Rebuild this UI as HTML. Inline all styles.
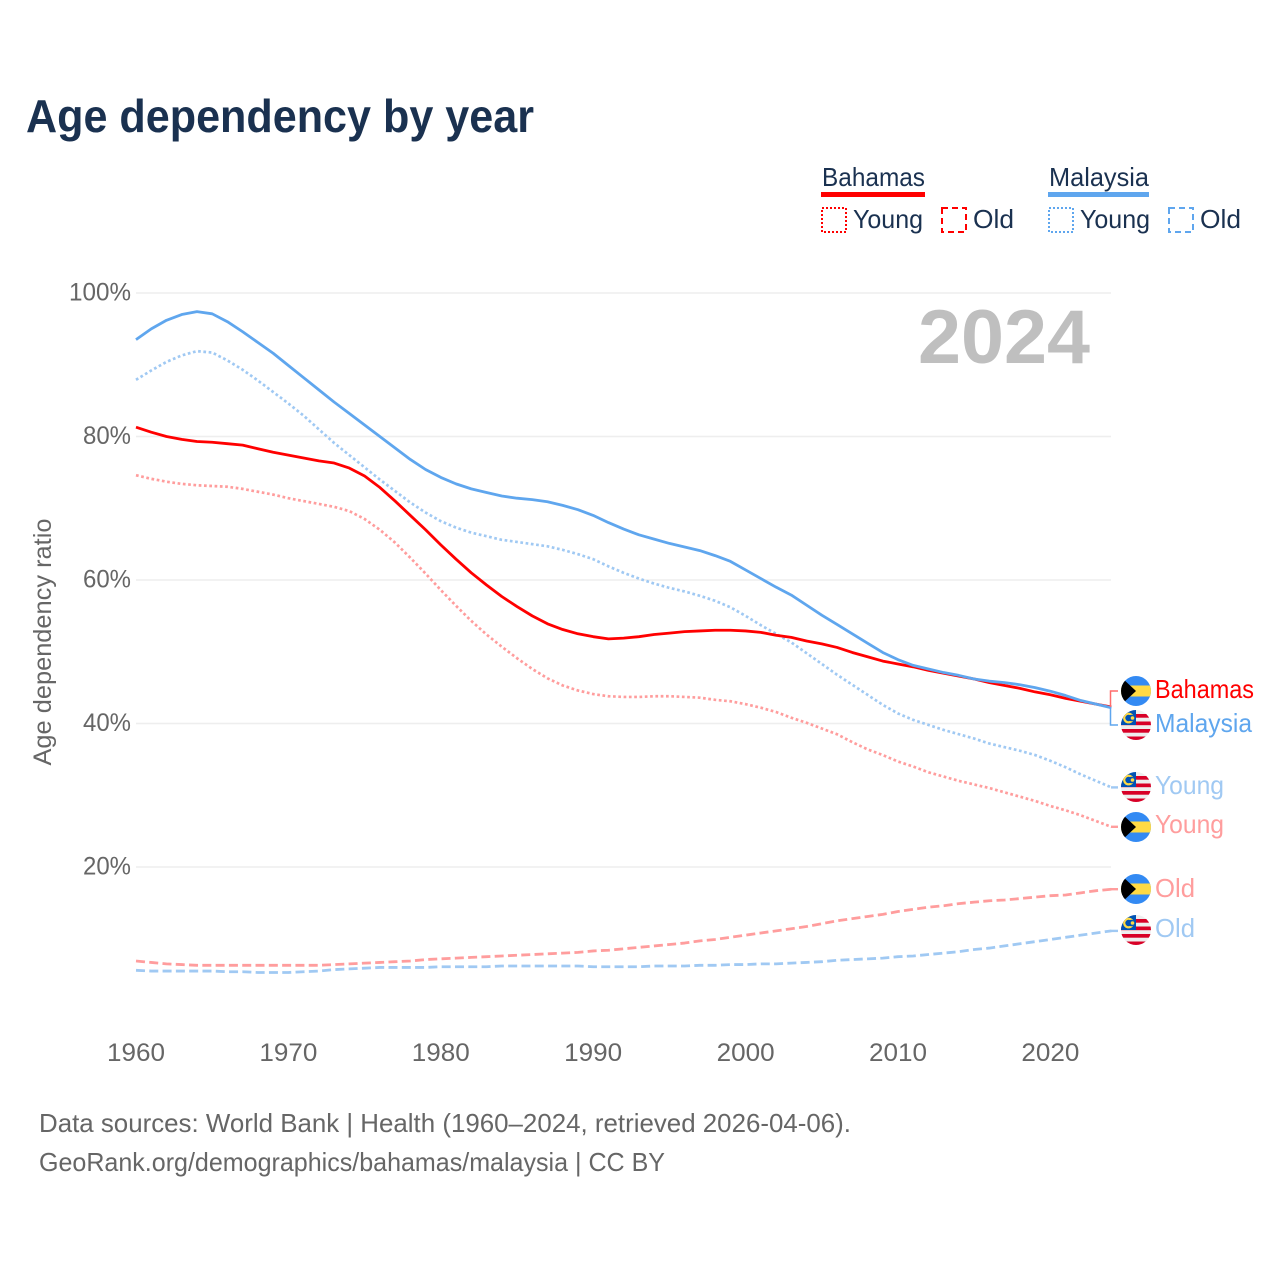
<!DOCTYPE html>
<html lang="en">
<head>
<meta charset="utf-8">
<title>Age dependency by year</title>
<style>
html,body{margin:0;padding:0;background:#fff;}
svg{display:block;font-family:"Liberation Sans",sans-serif;}
</style>
</head>
<body>
<svg id="chart" xmlns="http://www.w3.org/2000/svg" width="1280" height="1280" viewBox="0 0 1280 1280">
  <defs>
    <clipPath id="flag-clip"><circle cx="0" cy="0" r="15"/></clipPath>
  </defs>
  <rect x="0" y="0" width="1280" height="1280" fill="#ffffff"/>
  <text x="26" y="132" font-size="46" font-weight="700" fill="#1a3150" textLength="508" lengthAdjust="spacingAndGlyphs">Age dependency by year</text>

  <g fill="#1a3150" font-size="26">
    <text x="822" y="186" textLength="103" lengthAdjust="spacingAndGlyphs">Bahamas</text>
    <rect x="821" y="192" width="104" height="5" fill="#ff0000"/>
    <rect x="822" y="208" width="24" height="24" fill="none" stroke="#ff0000" stroke-width="2" stroke-dasharray="2 2"/>
    <text x="853" y="228" textLength="70" lengthAdjust="spacingAndGlyphs">Young</text>
    <rect x="942" y="208" width="24" height="24" fill="none" stroke="#ff0000" stroke-width="2" stroke-dasharray="6 4"/>
    <text x="973" y="228" textLength="41" lengthAdjust="spacingAndGlyphs">Old</text>
    <text x="1049" y="186" textLength="100" lengthAdjust="spacingAndGlyphs">Malaysia</text>
    <rect x="1048" y="192" width="101" height="5" fill="#5fa6ee"/>
    <rect x="1049" y="208" width="24" height="24" fill="none" stroke="#5fa6ee" stroke-width="2" stroke-dasharray="2 2"/>
    <text x="1080" y="228" textLength="70" lengthAdjust="spacingAndGlyphs">Young</text>
    <rect x="1169" y="208" width="24" height="24" fill="none" stroke="#5fa6ee" stroke-width="2" stroke-dasharray="6 4"/>
    <text x="1200" y="228" textLength="41" lengthAdjust="spacingAndGlyphs">Old</text>
  </g>

  <text x="1090" y="363" text-anchor="end" font-size="76" font-weight="700" fill="#bfbfbf" textLength="172" lengthAdjust="spacingAndGlyphs">2024</text>
  <text transform="translate(51,642) rotate(-90)" text-anchor="middle" font-size="25" fill="#666666" textLength="247" lengthAdjust="spacingAndGlyphs">Age dependency ratio</text>

  <g id="grid"></g>
  <g id="yticks"></g>
  <g id="xticks"></g>
  <g id="series"></g>
  <g id="endlabels"></g>

  <text x="39" y="1132" font-size="26" fill="#666666" textLength="812" lengthAdjust="spacingAndGlyphs">Data sources: World Bank | Health (1960–2024, retrieved 2026-04-06).</text>
  <text x="39" y="1171" font-size="26" fill="#666666" textLength="626" lengthAdjust="spacingAndGlyphs">GeoRank.org/demographics/bahamas/malaysia | CC BY</text>
</svg>
<script>
const startYear = 1960;
const xTickYears = [1960, 1970, 1980, 1990, 2000, 2010, 2020];
const yTickValues = [20, 40, 60, 80, 100];
const bahamasTotal = [
  81.3,80.6,80.0,79.6,79.3,79.2,79.0,78.8,78.3,77.8,
  77.4,77.0,76.6,76.3,75.6,74.5,72.9,71.0,69.0,67.0,
  64.9,62.9,61.0,59.3,57.7,56.3,55.0,53.9,53.1,52.5,
  52.1,51.8,51.9,52.1,52.4,52.6,52.8,52.9,53.0,53.0,
  52.9,52.7,52.3,52.0,51.5,51.1,50.6,49.9,49.3,48.7,
  48.3,47.9,47.4,47.0,46.6,46.2,45.7,45.3,44.9,44.4,
  44.0,43.5,43.1,42.7,42.3];
const malaysiaTotal = [
  93.5,95.0,96.2,97.0,97.4,97.1,96.0,94.6,93.1,91.6,
  89.9,88.2,86.5,84.8,83.2,81.6,80.0,78.4,76.8,75.4,
  74.3,73.4,72.7,72.2,71.7,71.4,71.2,70.9,70.4,69.8,
  69.0,68.0,67.1,66.3,65.7,65.1,64.6,64.1,63.4,62.6,
  61.4,60.2,59.0,57.9,56.5,55.1,53.8,52.5,51.2,49.9,
  48.9,48.1,47.6,47.1,46.7,46.2,45.9,45.7,45.4,45.0,
  44.5,43.9,43.2,42.7,42.2];
const bahamasYoung = [
  74.6,74.1,73.7,73.4,73.2,73.1,73.0,72.7,72.3,71.9,
  71.4,71.0,70.6,70.2,69.6,68.5,67.0,65.2,63.1,60.9,
  58.6,56.4,54.3,52.4,50.7,49.1,47.6,46.3,45.3,44.6,
  44.1,43.8,43.7,43.7,43.8,43.8,43.7,43.6,43.3,43.1,
  42.7,42.2,41.6,40.8,40.1,39.3,38.5,37.4,36.4,35.6,
  34.7,34.0,33.2,32.6,32.0,31.5,31.0,30.4,29.8,29.2,
  28.5,27.9,27.2,26.4,25.6];
const malaysiaYoung = [
  87.9,89.2,90.4,91.3,91.9,91.7,90.6,89.3,87.8,86.2,
  84.6,82.9,81.0,79.1,77.4,75.7,74.0,72.4,70.8,69.4,
  68.2,67.3,66.6,66.1,65.6,65.3,65.0,64.7,64.2,63.6,
  62.9,61.9,61.0,60.2,59.5,58.9,58.4,57.8,57.1,56.2,
  55.0,53.7,52.5,51.3,49.8,48.3,46.8,45.4,44.0,42.6,
  41.4,40.5,39.8,39.1,38.5,37.9,37.2,36.7,36.2,35.6,
  34.8,33.9,32.9,32.0,31.1];
const bahamasOld = [
  6.9,6.7,6.5,6.4,6.3,6.3,6.3,6.3,6.3,6.3,
  6.3,6.3,6.3,6.4,6.5,6.6,6.7,6.8,6.9,7.1,
  7.2,7.3,7.4,7.5,7.6,7.7,7.8,7.9,8.0,8.1,
  8.3,8.4,8.6,8.8,9.0,9.2,9.4,9.7,9.9,10.2,
  10.5,10.8,11.1,11.4,11.7,12.1,12.5,12.8,13.1,13.4,
  13.8,14.1,14.4,14.6,14.9,15.1,15.3,15.4,15.6,15.8,
  16.0,16.1,16.4,16.7,16.9];
const malaysiaOld = [
  5.6,5.5,5.5,5.5,5.5,5.5,5.4,5.4,5.3,5.3,
  5.3,5.4,5.5,5.7,5.8,5.9,6.0,6.0,6.0,6.0,
  6.1,6.1,6.1,6.1,6.2,6.2,6.2,6.2,6.2,6.2,
  6.1,6.1,6.1,6.1,6.2,6.2,6.2,6.3,6.3,6.4,
  6.4,6.5,6.5,6.6,6.7,6.8,7.0,7.1,7.2,7.3,
  7.5,7.6,7.8,8.0,8.2,8.5,8.7,9.0,9.3,9.6,
  9.9,10.2,10.5,10.8,11.1];

const SVG_NS = 'http://www.w3.org/2000/svg';
function xScale(year) { return 136 + (year - 1960) * 15.24; }
function yScale(value) { return 1010.5 - value * 7.175; }
function node(tag, attrs, parent) {
  const el = document.createElementNS(SVG_NS, tag);
  for (const k in attrs) el.setAttribute(k, attrs[k]);
  parent.appendChild(el);
  return el;
}

const gridG = document.getElementById('grid');
const yG = document.getElementById('yticks');
yTickValues.forEach(function (v) {
  const line = node('line', {x1: 136, x2: 1111, y1: yScale(v), y2: yScale(v), stroke: '#eeeeee', 'stroke-width': 1.5}, gridG);
  
  
  const t = node('text', {x: 131, y: yScale(v) + 7.5, 'text-anchor': 'end', 'font-size': 25, fill: '#666666', textLength: v === 100 ? 62 : 48, lengthAdjust: 'spacingAndGlyphs'}, yG);
  t.textContent = v + '%';
  
  
});

const xG = document.getElementById('xticks');
xTickYears.forEach(function (yr) {
  const t = node('text', {x: xScale(yr), y: 1061, 'text-anchor': 'middle', 'font-size': 25, fill: '#666666', textLength: 58, lengthAdjust: 'spacingAndGlyphs'}, xG);
  t.textContent = yr;
  
  
});

const RED = '#ff0000', BLUE = '#5fa6ee', LRED = '#ff9d9d', LBLUE = '#a0c9f3';
function drawLine(values, color, width, dash, name) {
  const pts = values.map(function (v, i) { return xScale(startYear + i).toFixed(2) + ',' + yScale(v).toFixed(2); }).join(' ');
  const attrs = {points: pts, fill: 'none', stroke: color, 'stroke-width': width, 'stroke-linejoin': 'round'};
  if (dash) attrs['stroke-dasharray'] = dash;
  const el = node('polyline', attrs, document.getElementById('series'));
  
  
}
drawLine(malaysiaOld, LBLUE, 2.8, '9 4.3', 'line-malaysia-old');
drawLine(bahamasOld, LRED, 2.8, '9 4.3', 'line-bahamas-old');
drawLine(malaysiaYoung, LBLUE, 2.7, '2.7 2.6', 'line-malaysia-young');
drawLine(bahamasYoung, LRED, 2.7, '2.7 2.6', 'line-bahamas-young');
drawLine(bahamasTotal, RED, 2.8, null, 'line-bahamas-total');
drawLine(malaysiaTotal, BLUE, 2.8, null, 'line-malaysia-total');

function drawFlag(country, cy, parent) {
  const g = node('g', {transform: 'translate(1136,' + cy + ')', 'clip-path': 'url(#flag-clip)'}, parent);
  
  
  if (country === 'bahamas') {
    node('rect', {x: -15, y: -15, width: 30, height: 30, fill: '#338af3'}, g);
    node('rect', {x: -15, y: -5.5, width: 30, height: 11, fill: '#ffda44'}, g);
    node('polygon', {points: '-15,-14 0,0 -15,14', fill: '#000000'}, g);
  } else {
    node('rect', {x: -15, y: -15, width: 30, height: 30, fill: '#eeeeee'}, g);
    [-11, -3.5, 4, 11.5].forEach(function (sy) {
      node('rect', {x: -15, y: sy, width: 30, height: 3.7, fill: '#d80027'}, g);
    });
    node('rect', {x: -15, y: -15, width: 15, height: 15, fill: '#0052b4'}, g);
    node('circle', {cx: -7.5, cy: -7, r: 4.3, fill: 'none', stroke: '#ffda44', 'stroke-width': 2.2}, g);
    node('circle', {cx: -4.6, cy: -7, r: 3.2, fill: '#0052b4'}, g);
    node('circle', {cx: -3.5, cy: -7, r: 1.8, fill: '#ffda44'}, g);
  }
}

function drawEnd(country, values, labelText, color, lineColor, flagY, textW, role, connector, textDy) {
  const parent = document.getElementById('endlabels');
  const endY = yScale(values[values.length - 1]);
  const d = connector
    ? 'M1110.5 ' + endY.toFixed(1) + ' V' + flagY + ' H1118'
    : 'M1111 ' + endY.toFixed(1) + ' H1118';
  const c = node('path', {d: d, fill: 'none', stroke: lineColor, 'stroke-width': connector ? 1.5 : 2.4}, parent);
  
  
  drawFlag(country, flagY, parent);
  const t = node('text', {x: 1155, y: flagY + textDy, 'font-size': 26, fill: color, textLength: textW, lengthAdjust: 'spacingAndGlyphs'}, parent);
  t.textContent = labelText;
  
  
}
const lastY = function (arr) { return Math.round(yScale(arr[arr.length - 1])); };
drawEnd('bahamas', bahamasTotal, 'Bahamas', RED, '#ff6b6b', lastY(bahamasTotal) - 16, 99, 'total', true, 7);
drawEnd('malaysia', malaysiaTotal, 'Malaysia', BLUE, BLUE, lastY(malaysiaTotal) + 17, 97, 'total', true, 7);
drawEnd('malaysia', malaysiaYoung, 'Young', LBLUE, LBLUE, lastY(malaysiaYoung), 69, 'young', false, 7);
drawEnd('bahamas', bahamasYoung, 'Young', LRED, LRED, lastY(bahamasYoung), 69, 'young', false, 6);
drawEnd('bahamas', bahamasOld, 'Old', LRED, LRED, lastY(bahamasOld), 40, 'old', false, 8);
drawEnd('malaysia', malaysiaOld, 'Old', LBLUE, LBLUE, lastY(malaysiaOld) - 1, 40, 'old', false, 7);
</script>
</body>
</html>
